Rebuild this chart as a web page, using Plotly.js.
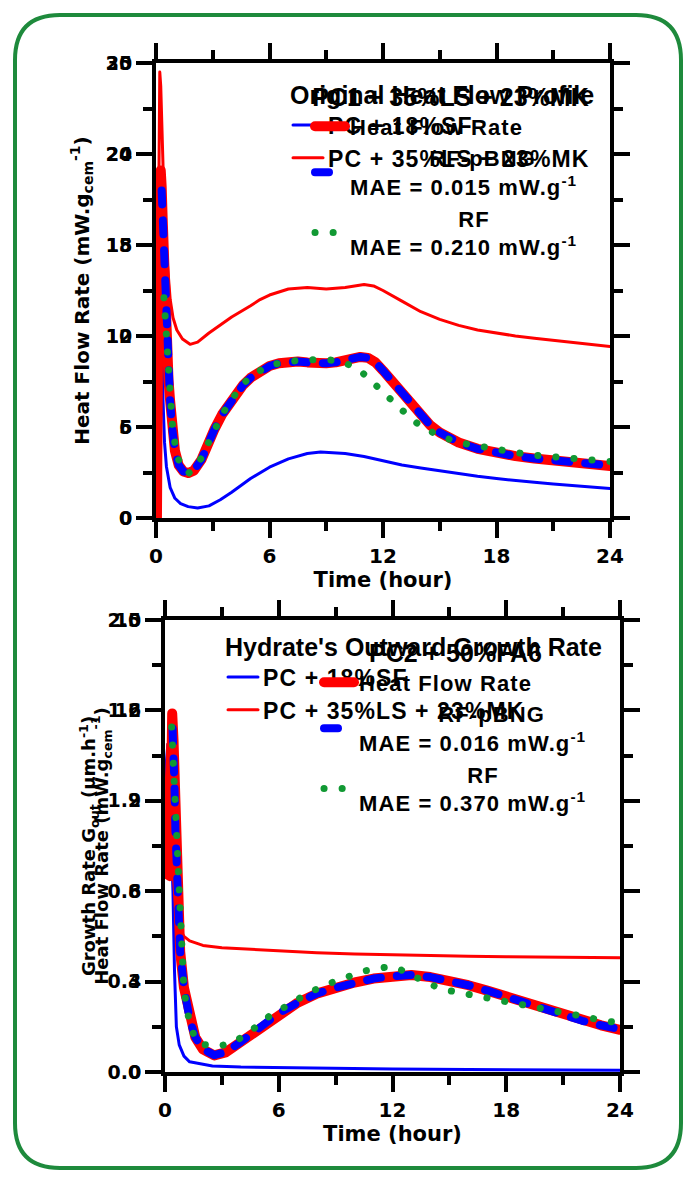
<!DOCTYPE html>
<html>
<head>
<meta charset="utf-8">
<script src="https://cdn.plot.ly/plotly-3.0.1.min.js"></script>
<style>
  html, body { margin: 0; padding: 0; background: #ffffff; }
  #chart { width: 696px; height: 1179px; }
  .js-line { stroke-linecap: round; stroke-linejoin: round; }
  .legendtext { letter-spacing: 1.1px; }
</style>
</head>
<body>
<div id="chart"></div>
<script>
// ---------------- DATA ----------------
// Top panel, figure A: Original Heat Flow Profile (mW/g, axis 0-30)
const tA_SF = [0, 0.05, 0.1, 0.15, 0.2, 0.25, 0.3, 0.37, 0.45, 0.55, 0.75, 1.0, 1.3, 1.7, 2.2, 2.8, 3.4, 4, 5, 5.5, 6, 7, 8, 8.7, 9.5, 10, 11, 12, 13, 14, 15, 16, 17, 18, 19, 20, 21, 22, 23, 24];
const hA_SF = [0, 0, 8, 16, 19.5, 17, 12, 7.8, 5, 3.4, 2.0, 1.3, 0.95, 0.75, 0.66, 0.8, 1.2, 1.7, 2.6, 3.0, 3.35, 3.9, 4.25, 4.35, 4.3, 4.25, 4.05, 3.75, 3.5, 3.3, 3.1, 2.9, 2.75, 2.6, 2.45, 2.35, 2.25, 2.15, 2.05, 1.95];
const tA_LSMK = [0, 0.05, 0.1, 0.15, 0.2, 0.25, 0.3, 0.4, 0.5, 0.6, 0.75, 0.9, 1.1, 1.4, 1.8, 2.2, 2.8, 3.5, 4, 5, 5.5, 6, 7, 8, 9, 10, 11, 11.5, 12, 13, 14, 15, 16, 17, 18, 19, 20, 21, 22, 23, 24];
const hA_LSMK = [0, 0, 14, 26, 29.4, 28.5, 26, 22, 19, 16.8, 14.4, 13.2, 12.4, 11.8, 11.45, 11.6, 12.2, 12.8, 13.25, 14.0, 14.4, 14.7, 15.1, 15.2, 15.1, 15.2, 15.4, 15.3, 15.0, 14.3, 13.6, 13.1, 12.7, 12.4, 12.2, 12.0, 11.85, 11.7, 11.55, 11.4, 11.3];

// Top panel, figure B: PC1 + 35%LS + 23%MK (mW/g, axis 0-25)
const tB = [0, 0.05, 0.1, 0.15, 0.2, 0.25, 0.3, 0.35, 0.42, 0.5, 0.58, 0.66, 0.74, 0.85, 1.0, 1.2, 1.45, 1.7, 2.0, 2.4, 2.7, 3.1, 3.5, 4, 4.6, 5, 5.5, 6, 6.5, 7, 7.5, 8, 8.5, 9, 9.5, 10, 10.5, 10.8, 11.2, 11.6, 12, 12.5, 13, 13.5, 14, 14.5, 15, 15.5, 16, 17, 18, 19, 20, 21, 22, 23, 24];
const hB_meas = [0, 0, 8, 15, 18.5, 19.1, 18.2, 16.5, 13.6, 11, 9.1, 7.6, 6.5, 5.0, 3.7, 2.9, 2.55, 2.47, 2.6, 3.2, 4.0, 4.9, 5.7, 6.5, 7.3, 7.7, 8.05, 8.35, 8.5, 8.6, 8.6, 8.55, 8.5, 8.5, 8.55, 8.65, 8.8, 8.85, 8.8, 8.55, 8.1, 7.5, 6.85, 6.2, 5.6, 5.1, 4.7, 4.4, 4.15, 3.8, 3.55, 3.4, 3.27, 3.15, 3.05, 2.95, 2.86];
const tB_pbng = [0.3, 0.35, 0.42, 0.5, 0.58, 0.66, 0.74, 0.85, 1.0, 1.2, 1.45, 1.7, 2.0, 2.4, 2.7, 3.1, 3.5, 4, 4.6, 5, 5.5, 6, 6.5, 7, 7.5, 8, 8.5, 9, 9.5, 10, 10.5, 10.8, 11.2, 11.6, 12, 12.5, 13, 13.5, 14, 14.5, 15, 15.5, 16, 17, 18, 19, 20, 21, 22, 23, 24];
const hB_pbng = [18.0, 16.4, 13.5, 11, 9.1, 7.6, 6.5, 5.0, 3.7, 2.9, 2.55, 2.5, 2.62, 3.2, 4.0, 4.9, 5.7, 6.5, 7.3, 7.7, 8.05, 8.35, 8.5, 8.6, 8.6, 8.55, 8.5, 8.5, 8.55, 8.65, 8.8, 8.85, 8.8, 8.55, 8.1, 7.5, 6.85, 6.2, 5.6, 5.1, 4.7, 4.4, 4.15, 3.8, 3.55, 3.4, 3.27, 3.15, 3.05, 2.95, 2.88];
const tB_rf = [0.42, 0.5, 0.6, 0.7, 0.85, 1.0, 1.2, 1.5, 1.7, 2.0, 2.4, 2.8, 3.5, 4, 4.6, 5.5, 6, 7, 8, 9, 9.5, 10, 10.5, 11, 11.5, 12, 12.5, 13, 13.5, 14, 15, 16, 17, 18, 19, 20, 21, 22, 23, 24];
const hB_rf = [12.1, 10.6, 8.7, 7.1, 5.3, 4.1, 3.2, 2.6, 2.45, 2.7, 3.3, 4.2, 5.7, 6.5, 7.4, 8.1, 8.4, 8.6, 8.7, 8.7, 8.65, 8.5, 8.3, 7.9, 7.4, 6.9, 6.4, 5.9, 5.45, 5.05, 4.5, 4.15, 3.95, 3.75, 3.6, 3.45, 3.35, 3.25, 3.15, 3.1];

// Bottom panel, figure C: Hydrate's Outward Growth Rate (um/h, axis 0-2.0)
const tC_SF = [0, 0.05, 0.15, 0.3, 0.42, 0.5, 0.6, 0.75, 1.0, 1.3, 2, 2.5, 4, 6, 8, 10, 12, 16, 20, 24];
const gC_SF = [0.9, 1.35, 1.45, 1.1, 0.8, 0.45, 0.2, 0.12, 0.07, 0.045, 0.033, 0.027, 0.022, 0.019, 0.017, 0.015, 0.013, 0.011, 0.009, 0.008];
const tC_LSMK = [0, 0.03, 0.15, 0.3, 0.45, 0.6, 0.8, 1.0, 1.3, 2, 3, 4, 6, 8, 10, 12, 14, 16, 18, 20, 22, 24];
const gC_LSMK = [0.86, 1.2, 1.45, 1.2, 0.85, 0.7, 0.63, 0.6, 0.58, 0.56, 0.55, 0.545, 0.535, 0.528, 0.522, 0.518, 0.515, 0.512, 0.51, 0.508, 0.506, 0.505];

// Bottom panel, figure D: PC2 + 50%FA6 (mW/g, axis 0-15)
const tD = [0.25, 0.3, 0.38, 0.45, 0.5, 0.55, 0.6, 0.7, 0.8, 1.0, 1.3, 1.6, 2, 2.6, 3.2, 4, 5, 6, 7, 8, 9, 10, 11, 12, 13, 14, 15, 16, 17, 18, 19, 20, 21, 22, 23, 24];
const hD_meas = [6.5, 10, 11.9, 11.0, 9.5, 8, 6.8, 5.2, 4.0, 2.8, 1.75, 1.15, 0.75, 0.55, 0.65, 1.0, 1.5, 1.95, 2.3, 2.6, 2.8, 2.97, 3.1, 3.18, 3.22, 3.15, 3.03, 2.88, 2.7, 2.5, 2.28, 2.07, 1.88, 1.7, 1.55, 1.4];
const tD_pbng = [0.4, 0.45, 0.5, 0.55, 0.6, 0.7, 0.8, 1.0, 1.3, 1.6, 2, 2.6, 3.2, 4, 5, 6, 7, 8, 9, 10, 11, 12, 13, 14, 15, 16, 17, 18, 19, 20, 21, 22, 23, 24];
const hD_pbng = [11.4, 10.9, 9.5, 8, 6.8, 5.2, 4.0, 2.8, 1.75, 1.15, 0.76, 0.56, 0.66, 1.0, 1.5, 1.95, 2.3, 2.6, 2.8, 2.97, 3.1, 3.18, 3.22, 3.15, 3.03, 2.88, 2.7, 2.5, 2.28, 2.07, 1.88, 1.7, 1.55, 1.42];
const tD_rf = [0.35, 0.42, 0.5, 0.6, 0.7, 0.8, 0.9, 1.0, 1.3, 1.6, 1.9, 2.8, 3.6, 4.5, 5.5, 6.5, 7.5, 8.5, 9.5, 10.5, 11.3, 12, 12.6, 13.3, 14, 15, 16, 17, 18, 19, 20, 21, 22, 23, 24];
const hD_rf = [11.45, 10.5, 9.0, 7.2, 5.6, 4.3, 3.3, 2.7, 1.6, 1.1, 0.92, 0.85, 0.97, 1.35, 1.85, 2.25, 2.6, 2.9, 3.15, 3.35, 3.45, 3.5, 3.35, 3.1, 2.9, 2.7, 2.58, 2.48, 2.38, 2.25, 2.1, 1.97, 1.85, 1.72, 1.62];

// Tick values / labels
const timeTicks = [0, 6, 12, 18, 24];
const ticksA = [0, 6, 12, 18, 24, 30];
const ticksB = [0, 5, 10, 15, 20, 25];
const ticksC = [0, 0.4, 0.8, 1.2, 1.6, 2.0];
const ticksD = [0, 3, 6, 9, 12, 15];

// Labels
const legendTitleA = "Original Heat Flow Profile";
const legendTitleB = "PC1 + 35%LS + 23%MK";
const legendTitleC = "Hydrate's Outward Growth Rate";
const legendTitleD = "PC2 + 50%FA6";
const nameSF = "PC + 18%SF";
const nameLSMK = "PC + 35%LS + 23%MK";
const nameMeas = "Heat Flow Rate";
const namePbng = "RF-pBNG";
const nameRf = "RF";
const maeTop = ["MAE = 0.015 mW.g<sup>-1</sup>", "MAE = 0.210 mW.g<sup>-1</sup>"];
const maeBot = ["MAE = 0.016 mW.g<sup>-1</sup>", "MAE = 0.370 mW.g<sup>-1</sup>"];

// ---------------- STYLE / LAYOUT ----------------
const W = 696, H = 1179;
const PX = x => x / W;
const PY = y => 1 - y / H;
const LEGFONT = "Liberation Sans, Arial, sans-serif";
const AXFONT = "DejaVu Sans, Verdana, sans-serif";
const RED = "#ff0000", BLUE = "#0000ff", GREEN = "#119933";
const B = s => "<b>" + s + "</b>";
const LS = s => '<span style="letter-spacing:1.1px">' + s + '</span>';
const pad = n => "\u00A0".repeat(n);
const L1 = s => B(LS(s));
const L2 = (a, n, b) => B(LS(pad(n) + a)) + "<br>" + B(LS(b));

const traces = [
  {x: tA_SF, y: hA_SF, xaxis: 'x', yaxis: 'y', legend: 'legend', name: L1(nameSF), mode: 'lines', line: {color: BLUE, width: 3}},
  {x: tA_LSMK, y: hA_LSMK, xaxis: 'x', yaxis: 'y', legend: 'legend', name: L1(nameLSMK), mode: 'lines', line: {color: RED, width: 3}},
  {x: tB, y: hB_meas, xaxis: 'x2', yaxis: 'y2', legend: 'legend2', name: L1(nameMeas), mode: 'lines', line: {color: RED, width: 10}},
  {x: tB_pbng, y: hB_pbng, xaxis: 'x2', yaxis: 'y2', legend: 'legend2', name: L2(namePbng, 11, maeTop[0]), mode: 'lines', line: {color: BLUE, width: 8, dash: '14px,16px'}},
  {x: tB_rf, y: hB_rf, xaxis: 'x2', yaxis: 'y2', legend: 'legend2', name: L2(nameRf, 15, maeTop[1]), mode: 'lines', line: {color: GREEN, width: 7, dash: '0.1px,18px'}},

  {x: tC_SF, y: gC_SF, xaxis: 'x3', yaxis: 'y3', legend: 'legend3', name: L1(nameSF), mode: 'lines', line: {color: BLUE, width: 3}},
  {x: tC_LSMK, y: gC_LSMK, xaxis: 'x3', yaxis: 'y3', legend: 'legend3', name: L1(nameLSMK), mode: 'lines', line: {color: RED, width: 3}},
  {x: tD, y: hD_meas, xaxis: 'x4', yaxis: 'y4', legend: 'legend4', name: L1(nameMeas), mode: 'lines', line: {color: RED, width: 10}},
  {x: tD_pbng, y: hD_pbng, xaxis: 'x4', yaxis: 'y4', legend: 'legend4', name: L2(namePbng, 11, maeBot[0]), mode: 'lines', line: {color: BLUE, width: 8, dash: '14px,16px'}},
  {x: tD_rf, y: hD_rf, xaxis: 'x4', yaxis: 'y4', legend: 'legend4', name: L2(nameRf, 15, maeBot[1]), mode: 'lines', line: {color: GREEN, width: 7, dash: '0.1px,18px'}}
];

function fnt(family, size) { return {family: family, size: size, color: 'black', weight: 'bold'}; }
function axis(extra) {
  return Object.assign({
    showline: true, linecolor: 'black', linewidth: 4, mirror: 'allticks',
    ticks: 'outside', ticklen: 16, tickwidth: 4, tickcolor: 'black',
    showgrid: false, zeroline: false, fixedrange: true,
    tickfont: fnt(AXFONT, 19)
  }, extra);
}
const minorStyle = d => ({dtick: d, ticks: 'outside', ticklen: 9, tickwidth: 4, tickcolor: 'black'});

const topDomX = [PX(156), PX(610)], topDomY = [PY(518), PY(63)];
const botDomX = [PX(165), PX(620)], botDomY = [PY(1072), PY(620)];

function legendBox(x, y, title, side, size) {
  return {x: PX(x), y: PY(y), xanchor: 'left', yanchor: 'top', bgcolor: 'rgba(0,0,0,0)', borderwidth: 0,
    font: fnt(LEGFONT, size), title: {text: title, font: fnt(LEGFONT, 25), side: side}, tracegroupgap: 0, valign: 'middle'};
}

const layout = {
  width: W, height: H,
  margin: {l: 0, r: 0, t: 0, b: 0},
  paper_bgcolor: '#ffffff', plot_bgcolor: 'rgba(0,0,0,0)',
  showlegend: true,
  xaxis: axis({domain: topDomX, anchor: 'y', range: [0, 24], tickvals: timeTicks, ticktext: timeTicks.map(v => B(v)),
    tickfont: fnt(AXFONT, 20), ticklabelstandoff: 1, minor: minorStyle(3),
    title: {text: B('Time (hour)'), font: fnt(AXFONT, 21), standoff: 4}}),
  yaxis: axis({domain: topDomY, anchor: 'x', range: [0, 30], tickvals: ticksA, ticktext: ticksA.map(v => B(v)),
    minor: minorStyle(3),
    title: {text: B('Heat Flow Rate (mW.g<sub>cem</sub><sup>-1</sup>)'), font: fnt(AXFONT, 20), standoff: 12}}),
  xaxis2: {overlaying: 'x', anchor: 'y2', range: [0, 24], visible: false, fixedrange: true},
  yaxis2: axis({overlaying: 'y', side: 'left', anchor: 'x2', range: [0, 25], tickvals: ticksB, ticktext: ticksB.map(v => B(v))}),

  xaxis3: axis({domain: botDomX, anchor: 'y3', range: [0, 24], tickvals: timeTicks, ticktext: timeTicks.map(v => B(v)),
    tickfont: fnt(AXFONT, 20), ticklabelstandoff: 1, minor: minorStyle(3),
    title: {text: B('Time (hour)'), font: fnt(AXFONT, 21), standoff: 4}}),
  yaxis3: axis({domain: botDomY, anchor: 'x3', range: [0, 2.0], tickvals: ticksC, ticktext: ticksC.map(v => B(v.toFixed(1))),
    minor: minorStyle(0.2),
    title: {text: B('Growth Rate G<sub>out</sub> (μm.h<sup>-1</sup>)'), font: fnt(AXFONT, 18), standoff: 8}}),
  xaxis4: {overlaying: 'x3', anchor: 'y4', range: [0, 24], visible: false, fixedrange: true},
  yaxis4: axis({overlaying: 'y3', side: 'left', anchor: 'x4', range: [0, 15], tickvals: ticksD, ticktext: ticksD.map(v => B(v)),
    title: {text: B('Heat Flow Rate (mW.g<sub>cem</sub><sup>-1</sup>)'), font: fnt(AXFONT, 18), standoff: 2}}),

  legend: legendBox(288, 71, B(legendTitleA), 'top', 23),
  legend2: legendBox(310, 73, B(legendTitleB), 'top center', 22),
  legend3: legendBox(223, 623, B(legendTitleC), 'top', 23),
  legend4: legendBox(319, 629, B(legendTitleD), 'top center', 22),

  shapes: [(function () {
    const x0 = PX(15), x1 = PX(681), yt = PY(15), yb = PY(1168), rx = PX(45), ry = 45 / H;
    return {
      type: 'path', xref: 'paper', yref: 'paper', layer: 'below',
      path: `M ${x0 + rx},${yt} L ${x1 - rx},${yt} Q ${x1},${yt} ${x1},${yt - ry} L ${x1},${yb + ry} Q ${x1},${yb} ${x1 - rx},${yb} L ${x0 + rx},${yb} Q ${x0},${yb} ${x0},${yb + ry} L ${x0},${yt - ry} Q ${x0},${yt} ${x0 + rx},${yt} Z`,
      line: {color: '#1e8a3c', width: 4}, fillcolor: 'rgba(0,0,0,0)'
    };
  })()]
};

Plotly.newPlot('chart', traces, layout, {staticPlot: true, displayModeBar: false});
</script>
</body>
</html>
